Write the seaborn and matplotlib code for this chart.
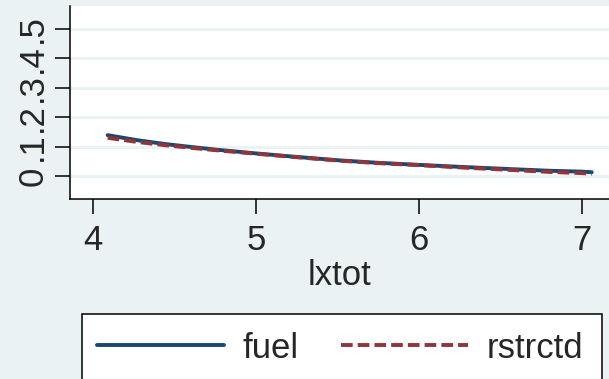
import numpy as np
import pandas as pd
import seaborn as sns
import matplotlib
matplotlib.use("Agg")
import matplotlib.pyplot as plt
from matplotlib.patches import Rectangle
from matplotlib.lines import Line2D

# ---- data ----
lxtot = [4.09, 4.27, 4.44, 4.6, 4.75, 5.0, 5.25, 5.52, 5.75, 6.0, 6.3, 6.59, 6.8, 7.0, 7.06]
fuel = [0.139, 0.122, 0.109, 0.099, 0.090, 0.077, 0.065, 0.053, 0.045, 0.038, 0.030, 0.023, 0.018, 0.015, 0.013]
rstrctd = [0.130, 0.116, 0.105, 0.096, 0.088, 0.076, 0.064, 0.052, 0.044, 0.037, 0.028, 0.020, 0.014, 0.010, 0.008]
series_names = ["fuel", "rstrctd"]
yticks = [0, 0.1, 0.2, 0.3, 0.4, 0.5]
ytick_labels = ["0", ".1", ".2", ".3", ".4", ".5"]
xticks = [4, 5, 6, 7]
xlabel = "lxtot"

df = pd.DataFrame({
    "lxtot": lxtot * 2,
    "value": fuel + rstrctd,
    "series": [series_names[0]] * len(lxtot) + [series_names[1]] * len(lxtot),
})

BG = "#EAF2F3"
FS = 25
sns.set_theme(style="white")
plt.rcParams["font.family"] = ["Liberation Sans", "DejaVu Sans"]

W, H = 609, 379
fig = plt.figure(figsize=(W / 100, H / 100), dpi=100, facecolor=BG)
ax = fig.add_axes([70 / W, 1 - 199 / H, (W - 70) / W, (199 - 6) / H])
ax.set_facecolor("white")

palette = {"fuel": "#1a476f", "rstrctd": "#90353b"}
DASH = (3.0, 1.3)
sns.lineplot(data=df, x="lxtot", y="value", hue="series", style="series",
             palette=palette, dashes={"fuel": "", "rstrctd": DASH},
             linewidth=2.8, ax=ax, legend=False)

ax.set_xlim(3.859, 7.166)
ax.set_ylim(-0.078, 0.578)
ax.set_yticks(yticks)
ax.set_yticklabels(ytick_labels)
ax.set_xticks(xticks)
ax.set_xticklabels([str(t) for t in xticks])
ax.tick_params(axis="both", labelsize=FS, length=11, width=1.1, color="black",
               direction="out", bottom=True, left=True)
ax.tick_params(axis="y", pad=4)
ax.tick_params(axis="x", pad=7)
for t in ax.get_yticklabels():
    t.set_rotation(90)
    t.set_rotation_mode("anchor")
    t.set_ha("center")
    t.set_va("bottom")
ax.set_xlabel(xlabel, fontsize=FS, labelpad=1.5)
ax.set_ylabel("")
ax.grid(axis="y", color=BG, linewidth=2.2)
ax.grid(axis="x", visible=False)
ax.set_axisbelow(True)
for s in ["top", "right"]:
    ax.spines[s].set_visible(False)
for s in ["left", "bottom"]:
    ax.spines[s].set_color("black")
    ax.spines[s].set_linewidth(1.1)

# legend box (extends past the bottom of the figure as in the reference)
box = Rectangle((82 / W, -30 / H), (602 - 82) / W, (H - 314 + 30) / H,
                transform=fig.transFigure, facecolor="white", edgecolor="black",
                linewidth=1.1, zorder=0)
fig.patches.append(box)

handles = [Line2D([0], [0], color=palette["fuel"], linewidth=2.8),
           Line2D([0], [0], color=palette["rstrctd"], linewidth=2.8, linestyle=(0, DASH))]
leg = fig.legend(handles, series_names, loc="center left",
                 bbox_to_anchor=(96.7 / W, 1 - 348 / H), ncol=2, frameon=False,
                 fontsize=FS, handlelength=3.67, handletextpad=0.54,
                 columnspacing=1.2, borderpad=0, borderaxespad=0)

fig.savefig("out.png", dpi=100, facecolor=BG)
